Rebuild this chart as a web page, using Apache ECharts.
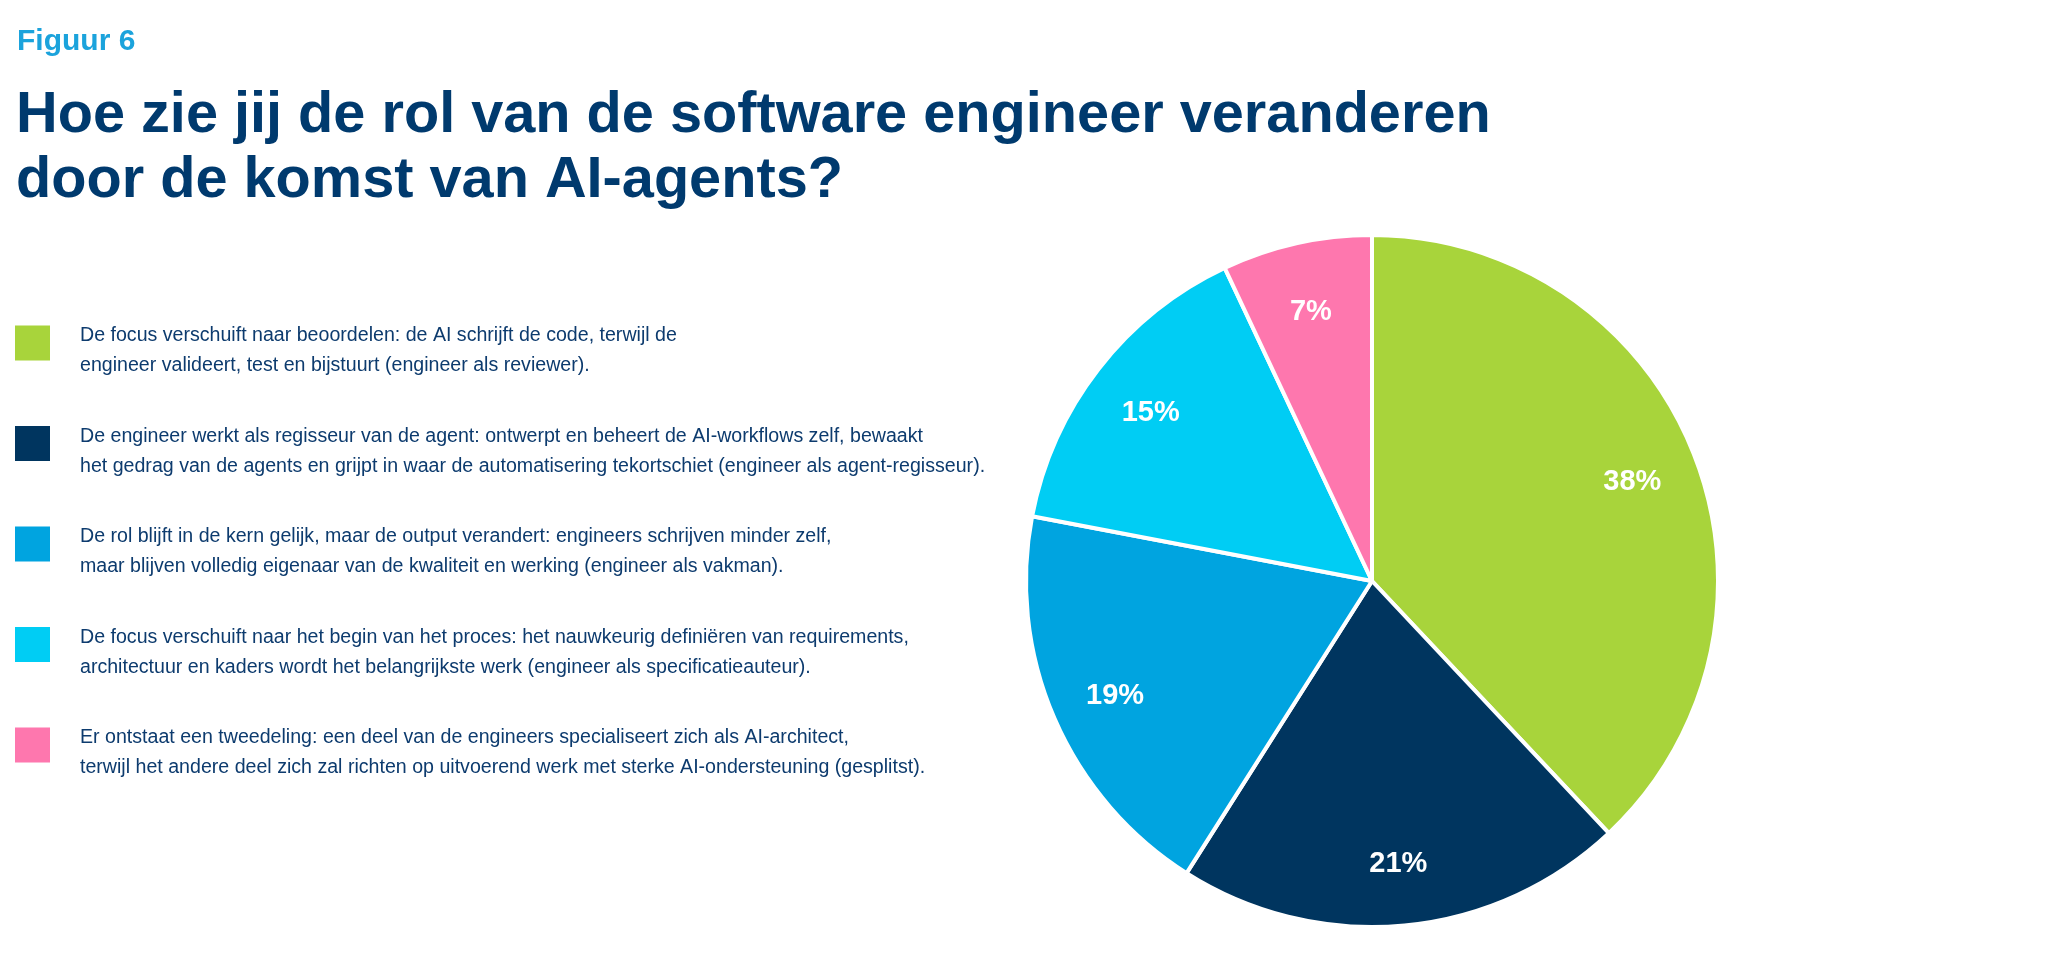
<!DOCTYPE html>
<html>
<head>
<meta charset="utf-8">
<title>Figuur 6</title>
<script src="https://cdn.jsdelivr.net/npm/echarts@6/dist/echarts.min.js"></script>
<style>
  html, body { margin: 0; padding: 0; background: #fff; }
  #chart { width: 2048px; height: 965px; }
</style>
</head>
<body>
<div id="chart"></div>
<script>
// answer categories (two lines each, as in the figure)
var categories = [
  'De focus verschuift naar beoordelen: de AI schrijft de code, terwijl de\nengineer valideert, test en bijstuurt (engineer als reviewer).',
  'De engineer werkt als regisseur van de agent: ontwerpt en beheert de AI-workflows zelf, bewaakt\nhet gedrag van de agents en grijpt in waar de automatisering tekortschiet (engineer als agent-regisseur).',
  'De rol blijft in de kern gelijk, maar de output verandert: engineers schrijven minder zelf,\nmaar blijven volledig eigenaar van de kwaliteit en werking (engineer als vakman).',
  'De focus verschuift naar het begin van het proces: het nauwkeurig definiëren van requirements,\narchitectuur en kaders wordt het belangrijkste werk (engineer als specificatieauteur).',
  'Er ontstaat een tweedeling: een deel van de engineers specialiseert zich als AI-architect,\nterwijl het andere deel zich zal richten op uitvoerend werk met sterke AI-ondersteuning (gesplitst).'
];
var percentages = [38, 21, 19, 15, 7];
var sliceColors = ['#a8d43b', '#00355f', '#00a4e0', '#00cdf4', '#fe77ae'];

var pieData = [];
for (var i = 0; i < categories.length; i++) {
  pieData.push({ name: categories[i], value: percentages[i], itemStyle: { color: sliceColors[i] } });
}

var chart = echarts.init(document.getElementById('chart'));
chart.setOption({
  animation: false,
  backgroundColor: '#ffffff',
  title: [{
    text: 'Figuur 6',
    left: 12,
    top: 22,
    textStyle: { fontFamily: 'Liberation Sans', fontWeight: 'bold', fontSize: 30, lineHeight: 30, color: '#1ba3dc' }
  }, {
    text: 'Hoe zie jij de rol van de software engineer veranderen\ndoor de komst van AI-agents?',
    left: 11,
    top: 79,
    textStyle: { fontFamily: 'Liberation Sans', fontWeight: 'bold', fontSize: 57.7, lineHeight: 65, color: '#003a6e' }
  }],
  legend: {
    orient: 'vertical',
    left: 10,
    top: 316,
    // square sits in the top part of the icon box so it lines up a bit above the text middle
    icon: 'path://M0,0H35V35H0ZM0,51',
    itemWidth: 35,
    itemHeight: 51,
    itemGap: 40.5,
    selectedMode: false,
    itemStyle: { borderWidth: 0 },
    data: categories,
    textStyle: {
      fontFamily: 'Liberation Sans',
      fontSize: 19.6,
      lineHeight: 30,
      color: '#0d3b6e',
      padding: [0, 0, 0, 25]
    }
  },
  series: [{
    name: 'rol',
    type: 'pie',
    center: [1372, 581],
    radius: [0, 346],
    startAngle: 90,
    clockwise: true,
    silent: true,
    itemStyle: { borderColor: '#ffffff', borderWidth: 4 },
    label: { show: false },
    labelLine: { show: false },
    data: pieData
  }, {
    // label ring: puts the percentages at about 0.8 of the radius
    name: 'labels',
    type: 'pie',
    center: [1372, 581],
    radius: [208, 346],
    startAngle: 90,
    clockwise: true,
    silent: true,
    itemStyle: { color: 'rgba(0,0,0,0)', borderWidth: 0 },
    label: {
      show: true,
      position: 'inside',
      formatter: '{c}%',
      fontFamily: 'Liberation Sans',
      fontWeight: 'bold',
      fontSize: 29,
      color: '#ffffff',
      offset: [0, 4]
    },
    labelLine: { show: false },
    data: percentages.map(function (v, i) { return { name: categories[i], value: v }; })
  }]
});
</script>
</body>
</html>
